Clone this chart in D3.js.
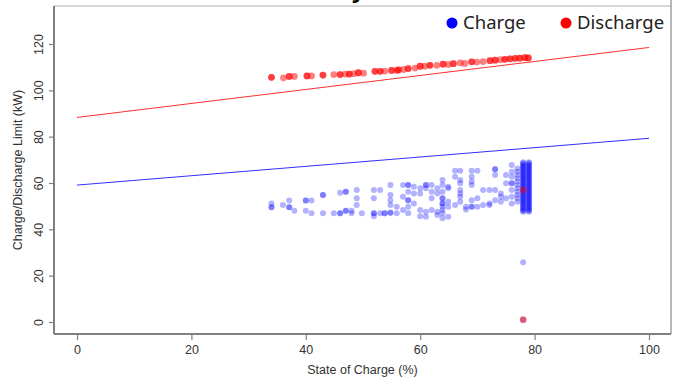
<!DOCTYPE html>
<html>
<head>
    <meta charset="utf-8">
    <title>charge / discharge limit</title>
    <script src="https://d3js.org/d3.v7.min.js"></script>
<style>
        html,body {
            margin: 0;
            padding: 0;
            background-color: white;
        }
        svg {
            display: block;
        }
        .tick text, .lab {
            font-family: 'Liberation Sans', Arial, sans-serif;
            font-size: 12.5px;
            fill: #333;
        }
        .leg {
            font-family: 'Noto Sans', sans-serif;
            font-size: 18.5px;
            fill: #222;
        }
    </style>
</head>
<body>
<script>

//DATA
let xTicks = [0, 20, 40, 60, 80, 100]
let yTicks = [0, 20, 40, 60, 80, 100, 120]

// discharge limit vs state of charge
let socD = [34.0,34.0,36.1,37.1,37.1,38.0,40.2,40.2,41.0,43.0,43.0,44.9,46.0,46.0,46.9,47.6,47.6,48.4,49.2,49.2,50.1,
            52.1,52.1,53.0,53.0,53.8,55.0,55.0,55.9,56.2,56.2,57.1,57.9,57.9,59.1,60.0,60.0,60.8,61.7,61.7,62.9,
            64.0,64.0,64.9,65.8,65.8,67.0,67.8,69.0,69.0,69.9,71.0,72.2,72.2,73.1,73.1,74.0,74.8,74.8,75.7,75.7,
            76.6,76.6,77.4,77.4,78.3,78.3,78.9,78.9,78.0,78.0]
let limD = [105.6,105.6,105.4,106.0,106.0,106.0,106.2,106.2,106.2,106.6,106.6,106.8,106.8,106.8,107.0,107.0,107.0,107.2,107.6,107.6,107.4,
            108.2,108.2,108.2,108.2,108.3,108.6,108.6,108.6,108.8,108.8,109.0,109.4,109.4,109.6,110.4,110.4,110.4,110.8,110.8,110.8,
            111.3,111.3,111.2,111.5,111.5,111.8,111.6,112.3,112.3,112.2,112.4,112.8,112.8,113.0,113.0,113.2,113.4,113.4,113.6,113.6,
            113.8,113.8,113.9,113.9,114.1,114.1,114.0,114.0,57.0,1.0]

// charge limit vs state of charge
let socC = [34.0,34.0,34.0,36.0,37.1,37.1,37.1,38.0,40.0,40.0,40.0,41.0,41.0,43.0,43.0,43.0,44.9,46.0,46.0,46.0,47.0,47.0,47.0,47.0,
            48.0,48.0,48.9,48.9,48.9,49.8,51.9,51.9,51.9,51.9,51.9,53.0,53.0,53.8,53.8,54.8,54.8,54.8,54.8,54.8,54.8,55.9,55.9,
            57.0,57.0,57.0,57.9,57.9,57.9,57.9,57.9,57.9,57.9,58.9,58.9,58.9,60.0,60.0,60.0,60.0,61.0,61.0,61.0,61.0,61.0,
            62.0,62.0,62.0,62.0,63.0,63.0,63.0,63.0,63.9,63.9,63.9,63.9,63.9,63.9,63.9,63.9,63.9,63.9,63.9,
            64.9,64.9,64.9,64.9,64.9,66.1,66.1,66.1,67.0,67.0,67.0,67.0,67.0,67.0,67.0,68.0,68.0,
            69.0,69.0,69.0,69.0,69.0,69.0,69.0,70.0,70.0,70.0,71.0,71.0,72.1,72.1,72.1,73.1,73.1,73.1,73.1,73.1,
            74.1,74.1,74.1,75.0,75.0,75.0,76.0,76.0,76.0,76.0,76.0,76.0,76.0,76.0,
            77.0,77.0,77.0,77.0,77.0,77.0,77.0,77.0,77.0,77.0,77.0,
            78.0,78.0,78.0,78.0,78.0,78.0,78.0,78.0,78.0,78.0,78.0,78.0,78.0,78.0,78.0,78.0,78.0,78.0,78.0,78.0,78.0,78.0,
            78.0,78.0,78.0,78.0,78.0,78.0,78.0,78.0,78.0,78.0,78.0,78.0,78.0,78.0,78.0,78.0,78.0,78.0,78.0,78.0,78.0,78.0,
            79.0,79.0,79.0,79.0,79.0,79.0,79.0,79.0,79.0,79.0,79.0,79.0,79.0,79.0,79.0,79.0,79.0,79.0,79.0,79.0,79.0,79.0,
            79.0,79.0,79.0,79.0,79.0,79.0,79.0,79.0,79.0,79.0,79.0,79.0,79.0,79.0,79.0,79.0,79.0,79.0,79.0,79.0,79.0,79.0,
            78.0,78.0]
let limC = [49.5,49.5,51.2,50.5,52.4,49.5,49.5,48.0,52.4,52.4,48.0,52.4,46.9,54.8,54.8,46.9,46.9,46.9,46.9,55.8,56.2,56.2,48.0,48.0,
            48.0,46.9,57.0,53.4,50.5,46.9,57.0,53.4,46.9,46.9,45.7,57.0,46.9,46.9,46.9,59.1,54.8,52.6,50.5,47.2,47.2,49.8,46.9,
            59.1,54.1,48.3,59.1,59.1,56.2,52.6,52.6,49.8,46.9,58.4,55.5,51.2,57.7,55.5,48.3,45.7,59.1,59.1,57.7,47.6,45.4,
            59.1,56.2,53.4,48.3,57.7,55.5,47.6,46.2,61.3,59.1,56.2,53.4,53.4,51.2,51.2,49.8,46.9,44.8,48.3,
            58.4,51.9,49.8,57.7,45.4,65.3,62.7,50.5,65.3,61.3,59.9,57.0,55.5,54.1,51.9,49.8,48.6,
            65.3,62.7,60.6,59.1,52.6,49.8,49.8,65.3,53.4,49.8,57.0,50.5,57.0,51.2,50.5,65.9,65.9,63.4,57.0,52.6,
            55.5,54.1,51.9,63.4,59.9,53.4,67.8,64.9,62.7,59.9,59.9,57.0,54.1,51.2,
            66.3,64.9,63.4,62.0,60.6,59.1,57.7,56.2,54.8,53.4,51.9,
            69.0,68.0,67.0,66.0,65.0,64.0,63.0,62.0,61.0,60.0,59.0,58.0,57.0,56.0,55.0,54.0,53.0,52.0,51.0,50.0,49.0,48.0,
            68.5,67.5,66.5,65.5,64.5,63.5,62.5,61.5,60.5,59.5,58.5,57.5,56.5,55.5,54.5,53.5,52.5,51.5,50.5,49.5,48.5,47.6,
            69.0,68.0,67.0,66.0,65.0,64.0,63.0,62.0,61.0,60.0,59.0,58.0,57.0,56.0,55.0,54.0,53.0,52.0,51.0,50.0,49.0,48.0,
            68.5,67.5,66.5,65.5,64.5,63.5,62.5,61.5,60.5,59.5,58.5,57.5,56.5,55.5,54.5,53.5,52.5,51.5,50.5,49.5,48.5,47.6,
            25.8,1.0]

// fitted lines
let fitX = [0, 100]
let fitD = [88.3, 118.5]
let fitC = [59.1, 79.3]

let legendNames = ['Charge', 'Discharge']
let legendColors = ['#0000ff', '#ff0000']

//DECLARE
let W = 673, H = 379
let padL = 54, padR = 671, padT = 6, padB = 334

let x = d3.scaleLinear().domain([0, 100]).range([77, 649])
let y = d3.scaleLinear().domain([0, 120]).range([322, 44])

let svg = d3.select('body').append('svg')
    .attr('width', W)
    .attr('height', H)

//FRAME
svg.append('line').attr('x1', padL).attr('x2', padR).attr('y1', padT).attr('y2', padT)
    .attr('stroke', '#c8c8c8').attr('stroke-width', 1.5)
svg.append('line').attr('x1', padR).attr('x2', padR).attr('y1', 0).attr('y2', padB)
    .attr('stroke', '#a0a0a0').attr('stroke-width', 1.5)
svg.append('line').attr('x1', padL).attr('x2', padL).attr('y1', padT).attr('y2', padB)
    .attr('stroke', '#808080').attr('stroke-width', 2)
svg.append('line').attr('x1', padL).attr('x2', padR).attr('y1', padB).attr('y2', padB)
    .attr('stroke', '#808080').attr('stroke-width', 2)

// cropped title, only the descender shows
svg.append('text').text('y')
    .attr('x', 352).attr('y', -2)
    .style('font-family', "'Noto Sans', sans-serif")
    .style('font-weight', 'bold')
    .style('font-size', '22px')

//AXES
let gx = svg.append('g')
    .attr('transform', 'translate(0,' + padB + ')')
    .call(d3.axisBottom(x).tickValues(xTicks).tickSize(6).tickFormat(d3.format('d')))
gx.select('.domain').remove()
gx.selectAll('.tick line').attr('stroke', '#808080').attr('stroke-width', 1.2)
gx.selectAll('.tick text').attr('y', 20).attr('dy', 0)

let gy = svg.append('g')
    .attr('transform', 'translate(' + padL + ',0)')
    .call(d3.axisLeft(y).tickValues(yTicks).tickSize(5).tickFormat(d3.format('d')))
gy.select('.domain').remove()
gy.selectAll('.tick line').attr('stroke', '#808080').attr('stroke-width', 1.2)
gy.selectAll('.tick text')
    .attr('x', 0).attr('dy', 0)
    .attr('transform', 'translate(-11,0) rotate(-90)')
    .style('text-anchor', 'middle')

svg.append('text').attr('class', 'lab')
    .text('State of Charge (%)')
    .attr('x', (padL + padR) / 2)
    .attr('y', 374)
    .style('text-anchor', 'middle')

svg.append('text').attr('class', 'lab')
    .text('Charge/Discharge Limit (kW)')
    .attr('transform', 'translate(22,' + (padT + padB) / 2 + ') rotate(-90)')
    .style('text-anchor', 'middle')

//LINES
let line = d3.line().x(d => x(d[0])).y(d => y(d[1]))
svg.append('path')
    .attr('d', line(d3.zip(fitX, fitD)))
    .attr('fill', 'none').attr('stroke', '#ff3030').attr('stroke-width', 1)
svg.append('path')
    .attr('d', line(d3.zip(fitX, fitC)))
    .attr('fill', 'none').attr('stroke', '#3030ff').attr('stroke-width', 1)

//POINTS
svg.append('g').selectAll('circle')
    .data(d3.zip(socC, limC))
    .enter().append('circle')
    .attr('cx', d => x(d[0]))
    .attr('cy', d => y(d[1]))
    .attr('r', 3)
    .attr('fill', 'rgba(0,0,255,0.3)')

svg.append('g').selectAll('circle')
    .data(d3.zip(socD, limD))
    .enter().append('circle')
    .attr('cx', d => x(d[0]))
    .attr('cy', d => y(d[1]))
    .attr('r', 3.4)
    .attr('fill', 'rgba(255,0,0,0.5)')

//LEGEND
let legX = [452, 566]
legendNames.forEach(function(name, i){
    svg.append('circle')
        .attr('cx', legX[i]).attr('cy', 23).attr('r', 5.5)
        .attr('fill', legendColors[i])
    svg.append('text').attr('class', 'leg')
        .text(name)
        .attr('x', legX[i] + 11).attr('y', 29)
})

</script>
</body>
</html>
